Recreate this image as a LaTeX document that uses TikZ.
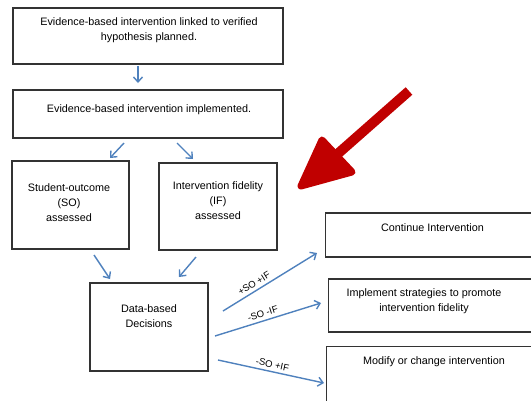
\documentclass[tikz,border=0pt]{standalone}
\usepackage{fontspec}
\setmainfont{Liberation Sans}
\usepackage{tikz}
\usetikzlibrary{positioning,arrows.meta}

\definecolor{flowblue}{RGB}{79,129,189}
\definecolor{bigred}{RGB}{192,0,0}

\tikzset{
  box/.style={draw=black!80, line width=1.1pt, shape=rectangle, inner sep=0pt},
  txt/.style={align=center, font=\fontsize{10.8}{15}\selectfont, inner sep=0pt},
  flow/.style={-{Straight Barb[length=5pt,width=9pt]}, flowblue, line width=1.4pt},
  lbl/.style={text=black, font=\fontsize{9.5}{10}\selectfont, inner sep=1pt}
}

\begin{document}
\begin{tikzpicture}[x=1pt,y=-1pt]
  \useasboundingbox (0,0) rectangle (531,400);
  % boxes
  \node (plan) [box, minimum width=270pt, minimum height=56pt] at (148,36) {};
  \node (impl) [box, minimum width=270pt, minimum height=48pt] at (148,114) {};
  \node (outcome) [box, minimum width=117pt, minimum height=88pt] at (70.5,205) {};
  \node (fidelity) [box, minimum width=118pt, minimum height=87pt] at (218,206.5) {};
  \node (decide) [box, minimum width=118pt, minimum height=88pt] at (149,327) {};
  \node (cont) [box, minimum width=230pt, minimum height=44pt, anchor=west] at (325,235) {};
  \node (promote) [box, minimum width=230pt, minimum height=53pt, anchor=west] at (328,305.5) {};
  \node (modify) [box, minimum width=230pt, minimum height=70pt, anchor=north west] at (326,346) {};

  % texts
  \node [txt] at (149,30.5) {Evidence-based intervention linked to verified\\hypothesis planned.};
  \node [txt] at (149,110) {Evidence-based intervention implemented.};
  \node [txt] at (69,203) {Student-outcome\\(SO)\\assessed};
  \node [txt] at (218,201) {Intervention fidelity\\(IF)\\assessed};
  \node [txt] at (149,316) {Data-based\\Decisions};
  \node [txt] at (432.5,228) {Continue Intervention};
  \node [txt] at (424,301.5) {Implement strategies to promote\\intervention fidelity};
  \node [txt] at (434,362) {Modify or change intervention};

  % connectors
  \coordinate (p1) at (138,66);  \coordinate (p2) at (138,83);
  \draw[flow] (p1) -- (p2);
  \coordinate (a1) at (124,143); \coordinate (a2) at (110,158);
  \draw[flow] (a1) -- (a2);
  \coordinate (b1) at (177,143); \coordinate (b2) at (193,159);
  \draw[flow] (b1) -- (b2);
  \coordinate (c1) at (94,255);  \coordinate (c2) at (110,279);
  \draw[flow] (c1) -- (c2);
  \coordinate (d1) at (196,257); \coordinate (d2) at (179,277);
  \draw[flow] (d1) -- (d2);

  \coordinate (e1) at (223,311); \coordinate (e2) at (317,253);
  \draw[flow] (e1) -- node[lbl, sloped, above=2pt, pos=0.37] {+SO +IF} (e2);
  \coordinate (f1) at (215,336); \coordinate (f2) at (321,303);
  \draw[flow] (f1) -- node[lbl, sloped, above=2pt, pos=0.47] {-SO -IF} (f2);
  \coordinate (g1) at (218,360); \coordinate (g2) at (324,383);
  \draw[flow] (g1) -- node[lbl, sloped, above=2pt, pos=0.5] {-SO +IF} (g2);

  % big red pointer
  \draw[bigred, line width=10pt] (409,91) -- (325,165);
  \fill[bigred, draw=bigred, line width=7pt, line join=round]
    (301,186) -- (322,140) -- (352,172) -- cycle;
\end{tikzpicture}
\end{document}
